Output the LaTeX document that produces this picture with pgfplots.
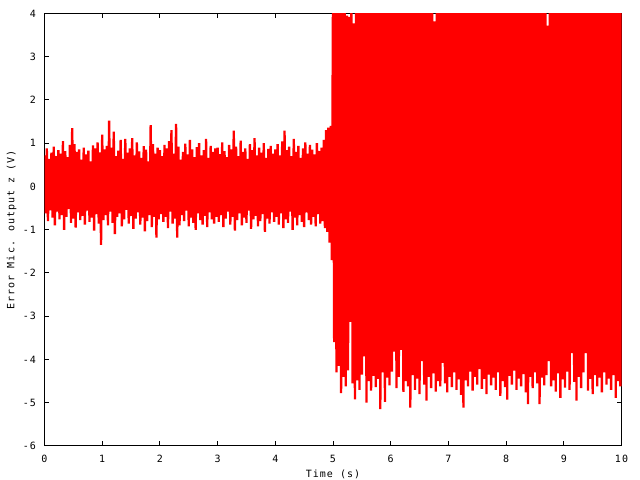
\documentclass[border=0pt]{standalone}
\usepackage{pgfplots}
\pgfplotsset{compat=1.18}
\usepackage{fontspec}
\newfontfamily\gp[LetterSpace=10]{DejaVu Sans Mono}
\newcommand{\gpf}{\gp\fontsize{10bp}{12bp}\selectfont}
\begin{document}
\begin{tikzpicture}[x=1bp,y=1bp]
\useasboundingbox (0,0) rectangle (640,480);
\begin{axis}[
  at={(44.5bp,34bp)}, anchor=south west,
  scale only axis, width=577bp, height=432.5bp,
  xmin=0, xmax=10, ymin=-6, ymax=4,
  xtick={0,1,2,3,4,5,6,7,8,9,10},
  ytick={-6,-5,-4,-3,-2,-1,0,1,2,3,4},
  minor tick num=0,
  tick align=inside, major tick length=5bp,
  major tick style={line width=1bp, black},
  axis line style={line width=1bp, black},
  /pgf/number format/assume math mode=true,
  yticklabel style={font=\gpf, anchor=east, inner sep=0pt, xshift=-8.5bp},
  xticklabel style={font=\gpf, anchor=north, inner sep=0pt, yshift=-9bp},
  xlabel={Time (s)},
  ylabel={Error Mic. output z (V)},
  every axis x label/.style={font=\gpf, at={(axis description cs:0.5,-0.0647)}, anchor=center},
  every axis y label/.style={font=\gpf, at={(axis description cs:-0.0572,0.5)}, rotate=90, anchor=center},
  axis on top=false,
]
\addplot[red, line width=2.3bp, line join=bevel, mark=none] coordinates {
(0.00,0.72)(0.02,-0.62)(0.04,0.88)(0.06,-0.80)(0.08,0.64)(0.10,-0.55)(0.12,0.78)(0.14,-0.72)(0.16,0.92)(0.18,-0.90)(0.20,0.70)(0.22,-0.58)(0.24,0.84)(0.26,-0.76)(0.28,0.76)(0.30,-0.66)(0.32,1.05)(0.34,-1.00)(0.36,0.82)(0.38,-0.70)(0.40,0.68)(0.42,-0.52)(0.44,0.96)(0.46,-0.84)(0.48,1.35)(0.50,-0.74)(0.52,0.98)(0.54,-0.95)(0.56,0.80)(0.58,-0.60)(0.60,0.86)(0.62,-0.78)(0.64,0.62)(0.66,-0.68)(0.68,0.90)(0.70,-0.88)(0.72,0.74)(0.74,-0.56)(0.76,0.83)(0.78,-0.82)(0.80,0.58)(0.82,-0.72)(0.84,0.95)(0.86,-1.02)(0.88,0.88)(0.90,-0.64)(0.92,1.02)(0.94,-0.86)(0.96,0.79)(0.98,-1.35)
(1.00,1.20)(1.02,-0.78)(1.04,0.86)(1.06,-0.66)(1.08,0.94)(1.10,-0.90)(1.12,1.52)(1.14,-0.58)(1.16,0.90)(1.18,-0.84)(1.20,1.27)(1.22,-1.10)(1.24,0.70)(1.26,-0.70)(1.28,0.83)(1.30,-0.62)(1.32,1.08)(1.34,-0.92)(1.36,0.64)(1.38,-0.76)(1.40,1.10)(1.42,-0.54)(1.44,0.78)(1.46,-0.86)(1.48,0.88)(1.50,-0.68)(1.52,1.12)(1.54,-0.98)(1.56,0.72)(1.58,-0.74)(1.60,1.02)(1.62,-0.60)(1.64,0.81)(1.66,-0.88)(1.68,0.66)(1.70,-0.72)(1.72,0.93)(1.74,-1.04)(1.76,0.85)(1.78,-0.80)(1.80,0.58)(1.82,-0.66)(1.84,1.42)(1.86,-0.94)(1.88,0.98)(1.90,-0.70)(1.92,0.76)(1.94,-1.18)(1.96,0.90)(1.98,-0.76)
(2.00,0.84)(2.02,-0.64)(2.04,0.70)(2.06,-0.82)(2.08,0.96)(2.10,-0.70)(2.12,0.88)(2.14,-0.96)(2.16,1.05)(2.18,-0.58)(2.20,1.30)(2.22,-0.86)(2.24,0.76)(2.26,-0.74)(2.28,1.45)(2.30,-1.18)(2.32,0.92)(2.34,-0.90)(2.36,0.62)(2.38,-0.66)(2.40,0.80)(2.42,-0.80)(2.44,0.99)(2.46,-0.56)(2.48,0.74)(2.50,-0.92)(2.52,1.08)(2.54,-0.72)(2.56,0.86)(2.58,-0.84)(2.60,0.68)(2.62,-1.00)(2.64,0.91)(2.66,-0.62)(2.68,1.00)(2.70,-0.78)(2.72,0.72)(2.74,-0.88)(2.76,0.84)(2.78,-0.68)(2.80,1.10)(2.82,-0.94)(2.84,0.66)(2.86,-0.60)(2.88,0.94)(2.90,-0.76)(2.92,0.80)(2.94,-0.86)(2.96,0.88)(2.98,-0.70)
(3.00,0.90)(3.02,-0.82)(3.04,0.75)(3.06,-0.66)(3.08,1.02)(3.10,-0.94)(3.12,0.82)(3.14,-0.74)(3.16,0.68)(3.18,-0.58)(3.20,0.96)(3.22,-0.88)(3.24,0.86)(3.26,-0.70)(3.28,1.29)(3.30,-1.02)(3.32,0.92)(3.34,-0.78)(3.36,0.70)(3.38,-0.62)(3.40,1.06)(3.42,-0.90)(3.44,0.80)(3.46,-0.72)(3.48,0.88)(3.50,-0.84)(3.52,0.64)(3.54,-0.56)(3.56,0.98)(3.58,-0.98)(3.60,0.84)(3.62,-0.76)(3.64,1.12)(3.66,-0.68)(3.68,0.72)(3.70,-0.92)(3.72,0.90)(3.74,-0.80)(3.76,0.78)(3.78,-0.64)(3.80,1.00)(3.82,-1.05)(3.84,0.66)(3.86,-0.74)(3.88,0.87)(3.90,-0.86)(3.92,0.94)(3.94,-0.60)(3.96,0.76)(3.98,-0.82)
(4.00,0.86)(4.02,-0.70)(4.04,0.98)(4.06,-0.88)(4.08,0.72)(4.10,-0.62)(4.12,1.04)(4.14,-0.96)(4.16,1.29)(4.18,-0.76)(4.20,0.84)(4.22,-0.84)(4.24,0.92)(4.26,-0.58)(4.28,0.70)(4.30,-1.00)(4.32,1.10)(4.34,-0.72)(4.36,0.80)(4.38,-0.90)(4.40,0.94)(4.42,-0.66)(4.44,0.66)(4.46,-0.82)(4.48,0.88)(4.50,-0.94)(4.52,1.02)(4.54,-0.60)(4.56,0.76)(4.58,-0.78)(4.60,0.96)(4.62,-0.88)(4.64,0.85)(4.66,-0.70)(4.68,0.74)(4.70,-0.92)(4.72,1.00)(4.74,-0.64)(4.76,0.82)(4.78,-0.86)(4.80,0.90)(4.82,-0.80)(4.84,1.08)(4.86,-0.96)(4.88,1.30)(4.90,-1.05)(4.92,1.36)(4.94,-1.30)(4.96,1.40)(4.98,-1.70)
(5.00,4.5)(5.02,-3.60)(5.04,4.5)(5.06,-4.30)(5.08,4.5)(5.10,-4.15)(5.12,4.5)(5.14,-4.78)(5.16,4.5)(5.18,-4.40)(5.20,4.5)(5.22,-4.62)(5.24,3.95)(5.26,-4.25)(5.28,3.92)(5.30,-3.13)(5.32,4.5)(5.34,-4.55)(5.36,3.77)(5.38,-4.92)(5.40,4.5)(5.42,-4.48)(5.44,4.5)(5.46,-4.70)(5.48,4.5)(5.50,-4.35)(5.52,4.5)(5.54,-3.93)(5.56,4.5)(5.58,-5.00)(5.60,4.5)(5.62,-4.50)(5.64,4.5)(5.66,-4.72)(5.68,4.5)(5.70,-4.38)(5.72,4.5)(5.74,-4.64)(5.76,4.5)(5.78,-4.45)(5.80,4.5)(5.82,-5.15)(5.84,4.5)(5.86,-4.30)(5.88,4.5)(5.90,-4.98)(5.92,4.5)(5.94,-4.42)(5.96,4.5)(5.98,-4.60)
(6.00,4.5)(6.02,-4.28)(6.04,4.5)(6.06,-3.82)(6.08,4.5)(6.10,-4.66)(6.12,4.5)(6.14,-4.40)(6.16,4.5)(6.18,-3.78)(6.20,4.5)(6.22,-4.75)(6.24,4.5)(6.26,-4.50)(6.28,4.5)(6.30,-4.62)(6.32,4.5)(6.34,-5.11)(6.36,4.5)(6.38,-4.36)(6.40,4.5)(6.42,-4.70)(6.44,4.5)(6.46,-4.44)(6.48,4.5)(6.50,-4.80)(6.52,4.5)(6.54,-4.04)(6.56,4.5)(6.58,-4.58)(6.60,4.5)(6.62,-4.95)(6.64,4.5)(6.66,-4.40)(6.68,4.5)(6.70,-4.66)(6.72,4.5)(6.74,-4.32)(6.76,3.82)(6.78,-4.74)(6.80,4.5)(6.82,-4.50)(6.84,4.5)(6.86,-4.62)(6.88,4.5)(6.90,-4.08)(6.92,4.5)(6.94,-4.55)(6.96,4.5)(6.98,-4.76)
(7.00,4.5)(7.02,-4.40)(7.04,4.5)(7.06,-4.64)(7.08,4.5)(7.10,-4.30)(7.12,4.5)(7.14,-4.70)(7.16,4.5)(7.18,-4.46)(7.20,4.5)(7.22,-4.82)(7.24,4.5)(7.26,-5.11)(7.28,4.5)(7.30,-4.48)(7.32,4.5)(7.34,-4.62)(7.36,4.5)(7.38,-4.28)(7.40,4.5)(7.42,-4.72)(7.44,4.5)(7.46,-4.40)(7.48,4.5)(7.50,-4.58)(7.52,4.5)(7.54,-4.22)(7.56,4.5)(7.58,-4.68)(7.60,4.5)(7.62,-4.45)(7.64,4.5)(7.66,-4.80)(7.68,4.5)(7.70,-4.35)(7.72,4.5)(7.74,-4.60)(7.76,4.5)(7.78,-4.42)(7.80,4.5)(7.82,-4.70)(7.84,4.5)(7.86,-4.30)(7.88,4.5)(7.90,-4.84)(7.92,4.5)(7.94,-4.50)(7.96,4.5)(7.98,-4.64)
(8.00,4.5)(8.02,-4.93)(8.04,4.5)(8.06,-4.38)(8.08,4.5)(8.10,-4.58)(8.12,4.5)(8.14,-4.26)(8.16,4.5)(8.18,-4.70)(8.20,4.5)(8.22,-4.44)(8.24,4.5)(8.26,-4.62)(8.28,4.5)(8.30,-4.34)(8.32,4.5)(8.34,-4.76)(8.36,4.5)(8.38,-5.03)(8.40,4.5)(8.42,-4.40)(8.44,4.5)(8.46,-4.66)(8.48,4.5)(8.50,-4.30)(8.52,4.5)(8.54,-4.55)(8.56,4.5)(8.58,-5.03)(8.60,4.5)(8.62,-4.42)(8.64,4.5)(8.66,-4.60)(8.68,4.5)(8.70,-4.36)(8.72,3.72)(8.74,-4.04)(8.76,4.5)(8.78,-4.62)(8.80,4.5)(8.82,-4.48)(8.84,4.5)(8.86,-4.74)(8.88,4.5)(8.90,-4.32)(8.92,4.5)(8.94,-4.89)(8.96,4.5)(8.98,-4.46)
(9.00,4.5)(9.02,-4.65)(9.04,4.5)(9.06,-4.28)(9.08,4.5)(9.10,-4.70)(9.12,4.5)(9.14,-3.85)(9.16,4.5)(9.18,-4.52)(9.20,4.5)(9.22,-4.95)(9.24,4.5)(9.26,-4.40)(9.28,4.5)(9.30,-4.66)(9.32,4.5)(9.34,-4.30)(9.36,4.5)(9.38,-3.85)(9.40,4.5)(9.42,-4.72)(9.44,4.5)(9.46,-4.45)(9.48,4.5)(9.50,-4.80)(9.52,4.5)(9.54,-4.36)(9.56,4.5)(9.58,-4.62)(9.60,4.5)(9.62,-4.42)(9.64,4.5)(9.66,-4.76)(9.68,4.5)(9.70,-4.30)(9.72,4.5)(9.74,-4.58)(9.76,4.5)(9.78,-4.44)(9.80,4.5)(9.82,-4.70)(9.84,4.5)(9.86,-4.36)(9.88,4.5)(9.90,-4.89)(9.92,4.5)(9.94,-4.50)(9.96,4.5)(9.98,-4.62)(10.00,4.5)
};
\end{axis}
\end{tikzpicture}
\end{document}
